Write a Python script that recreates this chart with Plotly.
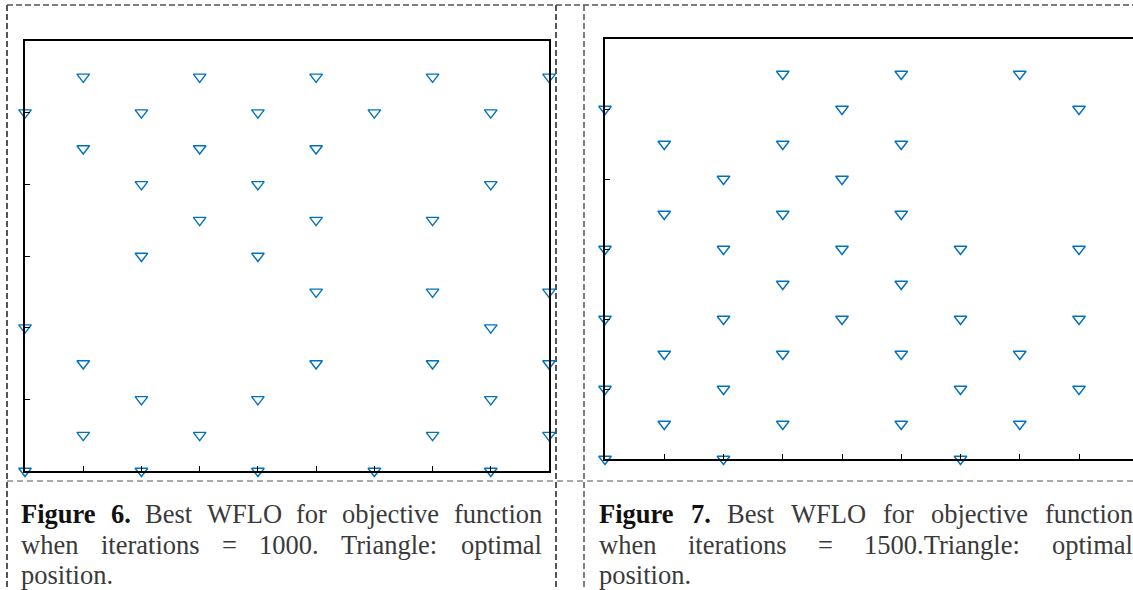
import plotly.graph_objects as go

# ---------------- data (grid units) ----------------
left_x = [1, 3, 5, 7, 9,
          0, 2, 4, 6, 8,
          1, 3, 5,
          2, 4, 8,
          3, 5, 7,
          2, 4,
          5, 7, 9,
          0, 8,
          1, 5, 7, 9,
          2, 4, 8,
          1, 3, 7, 9,
          0, 2, 4, 6, 8]
left_y = [11] * 5 + [10] * 5 + [9] * 3 + [8] * 3 + [7] * 3 + [6] * 2 + \
         [5] * 3 + [4] * 2 + [3] * 4 + [2] * 3 + [1] * 4 + [0] * 5

right_x = [3, 5, 7,
           0, 4, 8,
           1, 3, 5,
           2, 4,
           1, 3, 5,
           0, 2, 4, 6, 8,
           3, 5,
           0, 2, 4, 6, 8,
           1, 3, 5, 7,
           0, 2, 6, 8,
           1, 3, 5, 7,
           0, 2, 6]
right_y = [11] * 3 + [10] * 3 + [9] * 3 + [8] * 2 + [7] * 3 + [6] * 5 + \
          [5] * 2 + [4] * 5 + [3] * 4 + [2] * 4 + [1] * 4 + [0] * 3

caption_left = [
    [("Figure", True), ("6.", True), ("Best", False), ("WFLO", False),
     ("for", False), ("objective", False), ("function", False)],
    [("when", False), ("iterations", False), ("=", False), ("1000.", False),
     ("Triangle:", False), ("optimal", False)],
    [("position.", False)],
]
caption_right = [
    [("Figure", True), ("7.", True), ("Best", False), ("WFLO", False),
     ("for", False), ("objective", False), ("function", False)],
    [("when", False), ("iterations", False), ("=", False),
     ("1500.Triangle:", False), ("optimal", False)],
    [("position.", False)],
]

# ---------------- layout helpers ----------------
W, H = 1133, 590
BLUE = "#0072BD"
FONT = "Liberation Serif, Times New Roman, serif"
FS = 26.5


def px(x):
    return x / W


def py(y):
    return 1 - y / H


REG = {'a': 444, 'b': 500, 'c': 444, 'd': 500, 'e': 444, 'f': 333, 'g': 500,
       'h': 500, 'i': 278, 'j': 278, 'k': 500, 'l': 278, 'm': 778, 'n': 500,
       'o': 500, 'p': 500, 'q': 500, 'r': 333, 's': 389, 't': 278, 'u': 500,
       'v': 500, 'w': 722, 'x': 500, 'y': 500, 'z': 444, 'B': 667, 'F': 556,
       'L': 611, 'O': 722, 'T': 611, 'W': 944, '=': 564, '.': 250, ':': 278}
BOLD = {'F': 611, 'i': 278, 'g': 500, 'u': 556, 'r': 444, 'e': 444, '.': 250}
for d in "0123456789":
    REG[d] = 500
    BOLD[d] = 500


def wwidth(word, bold):
    tab = BOLD if bold else REG
    return sum(tab.get(c, 500) for c in word) / 1000 * FS


annotations = []


def add_caption(lines, x0, x1, ys):
    for li, (line, yc) in enumerate(zip(lines, ys)):
        widths = [wwidth(w, b) for w, b in line]
        last = li == len(lines) - 1
        if len(line) > 1 and not last:
            gap = (x1 - x0 - sum(widths)) / (len(line) - 1)
        else:
            gap = 0.25 * FS
        x = x0
        for (w, b), wd in zip(line, widths):
            annotations.append(dict(
                x=px(x - 1), y=py(yc), xref="paper", yref="paper",
                xanchor="left", yanchor="middle", showarrow=False, text=w,
                font=dict(family=FONT, size=FS,
                          color="#111111" if b else "#3a3a3a",
                          weight="bold" if b else "normal")))
            x += wd + gap


add_caption(caption_left, 20, 541, [514, 545, 575])
add_caption(caption_right, 598, 1132, [514, 545, 575])

# ---------------- figure ----------------
fig = go.Figure()
marker = dict(symbol="triangle-down-open", size=11, color=BLUE,
              line=dict(width=1.4, color=BLUE))
fig.add_trace(go.Scatter(x=left_x, y=left_y, mode="markers", marker=marker,
                         xaxis="x", yaxis="y", cliponaxis=False,
                         showlegend=False))
fig.add_trace(go.Scatter(x=right_x, y=right_y, mode="markers", marker=marker,
                         xaxis="x2", yaxis="y2", cliponaxis=False,
                         showlegend=False))

ax_common = dict(showgrid=False, zeroline=False, showticklabels=False,
                 showline=True, linecolor="black", linewidth=1.5,
                 ticks="inside", ticklen=5, tickcolor="black", tickwidth=1)

fig.update_layout(
    width=W, height=H, margin=dict(l=0, r=0, t=0, b=0),
    paper_bgcolor="white", plot_bgcolor="white",
    xaxis=dict(domain=[px(25), px(549)], range=[0, 9], dtick=1, tick0=0,
               mirror=True, anchor="y", **ax_common),
    yaxis=dict(domain=[py(471), py(41)], range=[0, 12], dtick=2, tick0=0,
               mirror=True, anchor="x", **ax_common),
    xaxis2=dict(domain=[px(605), 1], range=[0, (1133 - 605) / 59.25],
                dtick=1, tick0=0, mirror=True, anchor="y2", **ax_common),
    yaxis2=dict(domain=[py(459), py(39)], range=[0, 12], dtick=2, tick0=0,
                mirror=False, anchor="x2", **ax_common),
    annotations=annotations,
)

dash_col = "#555555"
shapes = [
    dict(x0=px(7), x1=1, y0=py(5), y1=py(5), width=1.5, dash="6px,3px"),
    dict(x0=px(7), x1=1, y0=py(481), y1=py(481), width=1.2, dash="6px,4px"),
    dict(x0=px(7), x1=px(7), y0=py(5), y1=0, width=2, dash="6px,3px"),
    dict(x0=px(556), x1=px(556), y0=py(5), y1=0, width=2, dash="6px,3px"),
    dict(x0=px(584), x1=px(584), y0=py(5), y1=0, width=1.5, dash="6px,3px"),
]
for s in shapes:
    fig.add_shape(type="line", xref="paper", yref="paper",
                  x0=s["x0"], x1=s["x1"], y0=s["y0"], y1=s["y1"],
                  line=dict(color=dash_col, width=s["width"], dash=s["dash"]))

fig.write_html("out.html",
               config={"displayModeBar": False},
               post_script="document.body.style.margin='0';"
                           "document.body.style.overflow='hidden';")
